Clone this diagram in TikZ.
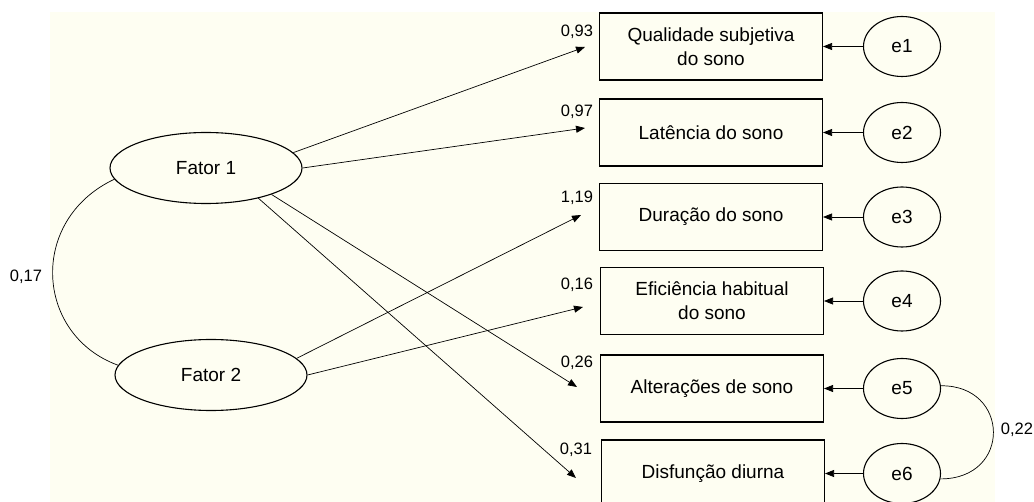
\documentclass[tikz,border=0pt]{standalone}
\usepackage{fontspec}
\setmainfont{Liberation Sans}
\usetikzlibrary{shapes.geometric,arrows.meta}
\definecolor{paper}{RGB}{254,254,242}
\begin{document}
\begin{tikzpicture}[x=1pt,y=-1pt,
    latent/.style={draw,ellipse,line width=1.1pt,minimum width=192pt,minimum height=71pt,inner sep=0pt,font=\fontsize{19}{23}\selectfont},
    err/.style={draw,ellipse,line width=1.1pt,minimum width=77pt,minimum height=60pt,inner sep=0pt,font=\fontsize{19}{23}\selectfont},
    item/.style={draw,rectangle,line width=1.1pt,minimum width=223pt,minimum height=67pt,align=center,font=\fontsize{19}{24}\selectfont},
    load/.style={line width=0.7pt,-{Triangle[length=9pt,width=7pt]}},
    coef/.style={font=\fontsize{16.5}{19}\selectfont}]
    \useasboundingbox (0,0) rectangle (1034,502);
    \fill[paper] (50,12) rectangle (995,502);
    \node[latent] (f1) at (206,168) {Fator 1};
    \node[latent] (f2) at (211,375) {Fator 2};
    \node[item] (q1) at (711,46.5) {Qualidade subjetiva\\do sono};
    \node[item] (q2) at (711,132.5) {Latência do sono};
    \node[item] (q3) at (711,217) {Duração do sono};
    \node[item] (q4) at (712,301) {Eficiência habitual\\do sono};
    \node[item] (q5) at (712,388.5) {Alterações de sono};
    \node[item] (q6) at (713,473.5) {Disfunção diurna};
    \node[err] (e1) at (902,46.5) {e1};
    \node[err] (e2) at (902,132.5) {e2};
    \node[err] (e3) at (902,217) {e3};
    \node[err] (e4) at (902,301) {e4};
    \node[err] (e5) at (902,388.5) {e5};
    \node[err] (e6) at (902,473.5) {e6};
    \coordinate (t1) at (585,47);
    \coordinate (t2) at (585,128);
    \coordinate (t3) at (581,215);
    \coordinate (t4) at (583,307);
    \coordinate (t5) at (577,387);
    \coordinate (t6) at (576,478);
    \draw[load] (f1.10) -- (t1);
    \draw[load] (f1.east) -- (t2);
    \draw[load] (f1.338) -- (t5);
    \draw[load] (f1.330) -- (t6);
    \draw[load] (f2.11) -- (t3);
    \draw[load] (f2.east) -- (t4);
    \draw[load] (e1) -- (q1);
    \draw[load] (e2) -- (q2);
    \draw[load] (e3) -- (q3);
    \draw[load] (e4) -- (q4);
    \draw[load] (e5) -- (q5);
    \draw[load] (e6) -- (q6);
    \draw[line width=0.7pt] (f1.187) .. controls (28,220) and (35,335) .. (f2.174);
    \draw[line width=0.7pt] (e5.4) .. controls (1010,385) and (1012,479) .. (e6.352);
    \node[coef] (c1) at (577,32) {0,93};
    \node[coef] (c2) at (577,112) {0,97};
    \node[coef] (c3) at (577,198) {1,19};
    \node[coef] (c4) at (577,285) {0,16};
    \node[coef] (c5) at (577,363) {0,26};
    \node[coef] (c6) at (576,450) {0,31};
    \node[coef] (c7) at (26,277) {0,17};
    \node[coef] (c8) at (1017,430) {0,22};
\end{tikzpicture}
\end{document}
